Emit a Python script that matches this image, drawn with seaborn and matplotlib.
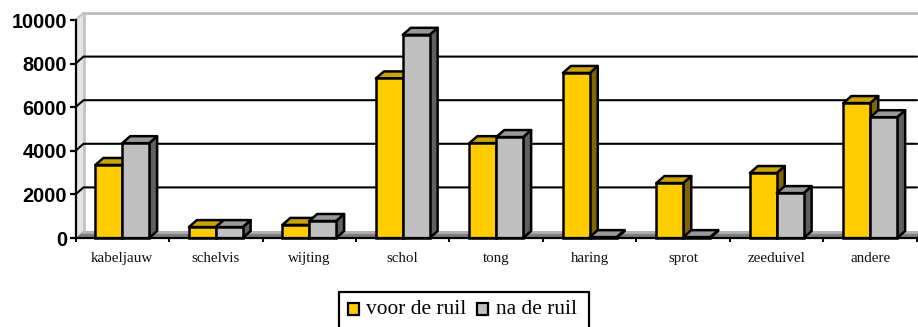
import matplotlib
matplotlib.use("Agg")
import matplotlib.pyplot as plt
import pandas as pd
import seaborn as sns
from matplotlib.patches import Polygon, Rectangle

categories = ["kabeljauw", "schelvis", "wijting", "schol", "tong", "haring", "sprot", "zeeduivel", "andere"]
voor = [3350, 500, 600, 7320, 4350, 7570, 2520, 2980, 6190]
na = [4350, 500, 780, 9320, 4630, 40, 40, 2060, 5540]
series_names = ["voor de ruil", "na de ruil"]
y_ticks = [0, 2000, 4000, 6000, 8000, 10000]

W, H = 918, 327
FRONT, GREY = "#FFCC00", "#C0C0C0"
TOPS = {FRONT: "#CCA300", GREY: "#999999"}
SIDES = {FRONT: "#806600", GREY: "#606060"}

sns.set_theme(style="white")
fig = plt.figure(figsize=(W / 100, H / 100), dpi=100)
ax = fig.add_axes([75.5 / W, 1 - 238 / H, 841.5 / W, 218 / H])
df = pd.DataFrame({
    "cat": categories * 2,
    "val": voor + na,
    "serie": [series_names[0]] * 9 + [series_names[1]] * 9,
})
sns.barplot(data=df, x="cat", y="val", hue="serie", order=categories, hue_order=series_names,
            palette=[FRONT, GREY], width=0.575, gap=0, dodge=True, saturation=1,
            edgecolor="black", linewidth=1.8, legend=False, ax=ax)
ax.set_xlim(-0.5, 8.5)
ax.set_ylim(0, 10000)
ax.set_xlabel("")
ax.set_ylabel("")

dx = 8 / (841.5 / 9)    # depth in category units
dy = 7 / 218 * 10000    # depth in value units
x0, x1 = -0.5, 8.5

# walls and floor
ax.add_patch(Polygon([(x0, 0), (x0 + dx, dy), (x0 + dx, 10000 + dy), (x0, 10000)],
                     fc="#E4E4E4", ec="none", clip_on=False, zorder=0.5))
ax.add_patch(Polygon([(x0, 0), (x0 + dx, dy), (x1 + dx, dy), (x1, 0)],
                     fc="#808080", ec="none", clip_on=False, zorder=0.6))
ax.add_patch(Polygon([(x0 + dx * 0.6, dy * 0.6), (x0 + dx, dy), (x1 + dx, dy), (x1 + dx * 0.6, dy * 0.6)],
                     fc="#B2B2B2", ec="none", clip_on=False, zorder=0.61))
ax.plot([x0 + dx, x1 + dx], [10000 + dy, 10000 + dy], color="#B8B8B8", lw=1.9, clip_on=False, zorder=0.7)
ax.plot([x0 + dx, x0 + dx], [dy, 10000 + dy], color="#C0C0C0", lw=1.9, clip_on=False, zorder=0.7)
ax.plot([x0, x0 + dx], [10000, 10000 + dy], color="#C0C0C0", lw=1.5, clip_on=False, zorder=0.7)

# gridlines on the wall
for t in y_ticks[1:-1]:
    ax.plot([x0, x0 + dx, x1], [t, t + dy, t + dy], color="black", lw=1.5, clip_on=False,
            solid_joinstyle="miter", zorder=0.8)

# 3D faces computed from the bars
bars = sorted([p for p in ax.patches if isinstance(p, Rectangle) and p.get_width() < 1],
              key=lambda p: p.get_x())
z = 2
for p in bars:
    x, w, h = p.get_x(), p.get_width(), p.get_height()
    col = FRONT if matplotlib.colors.same_color(p.get_facecolor(), FRONT) else GREY
    ax.add_patch(Polygon([(x + w, 0), (x + w + dx, dy), (x + w + dx, h + dy), (x + w, h)],
                         fc=SIDES[col], ec="black", lw=1.8, joinstyle="round", clip_on=False, zorder=z))
    ax.add_patch(Polygon([(x, h), (x + dx, h + dy), (x + w + dx, h + dy), (x + w, h)],
                         fc=TOPS[col], ec="black", lw=1.8, joinstyle="round", clip_on=False, zorder=z))
    p.set_zorder(z + 0.5)
    p.set_clip_on(False)
    z += 1

# axes
for s in ["top", "right"]:
    ax.spines[s].set_visible(False)
for s in ["left", "bottom"]:
    ax.spines[s].set_visible(True)
    ax.spines[s].set_color("black")
    ax.spines[s].set_linewidth(1.6)
    ax.spines[s].set_zorder(50)

ax.set_yticks(y_ticks)
ax.set_yticklabels([str(t) for t in y_ticks], family="Liberation Sans", fontweight="bold", fontsize=14.4, color="black")
ax.tick_params(axis="y", left=True, length=4, width=1.6, color="black", pad=2)
ax.set_xticks([i - 0.5 for i in range(10)], minor=False)
ax.set_xticklabels([])
ax.tick_params(axis="x", bottom=True, length=3.2, width=1.4, color="black")
for i, c in enumerate(categories):
    ax.annotate(c, (i, 0), xytext=(0, -14.5), textcoords="offset points", ha="center", va="center",
                family="Liberation Serif", fontsize=10.8, color="#111111", annotation_clip=False)

# legend (its lower edge runs off the picture, as in the original)
fig.add_artist(Rectangle((339 / W, 1 - 340 / H), 250 / W, 48 / H, transform=fig.transFigure,
                         fc="white", ec="black", lw=1.6, clip_on=False))
for xp, xt, col, name in [(347.5, 366, FRONT, series_names[0]), (477, 495.5, GREY, series_names[1])]:
    fig.add_artist(Rectangle((xp / W, 1 - 315 / H), 11 / W, 12 / H, transform=fig.transFigure,
                             fc=col, ec="black", lw=1.6))
    fig.text(xt / W, 1 - 310 / H, name, family="Liberation Serif", fontsize=15.4,
             color="black", va="center", ha="left")

fig.savefig("out.png", dpi=100)
